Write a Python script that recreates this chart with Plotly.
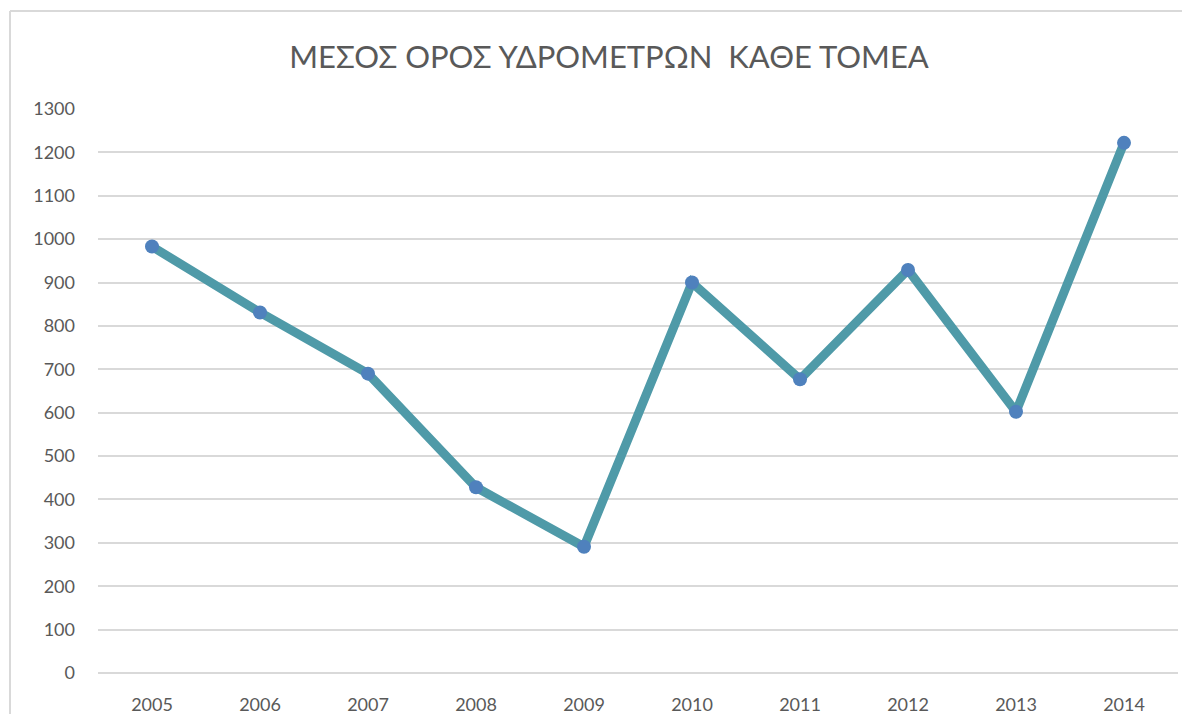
import plotly.graph_objects as go

years = ["2005", "2006", "2007", "2008", "2009", "2010", "2011", "2012", "2013", "2014"]
values = [983, 831, 690, 428, 291, 900, 677, 929, 602, 1222]
y_ticks = list(range(0, 1301, 100))

# page body has an 8px margin; keep the figure well inside the window (no scrollbars)
OFF = 8
W, H = 1174, 706
L, T = 98 - OFF, 109 - OFF
R = (OFF + W) - 1178
B = (OFF + H) - 673
pw, ph = W - L - R, H - T - B

def px_x(p):
    return (p - OFF - L) / pw

def px_y(p):
    return (H - B - (p - OFF)) / ph

border = dict(color="#D9D9D9", width=2)

fig = go.Figure()
fig.add_trace(go.Scatter(
    x=years, y=values, mode="lines+markers",
    line=dict(color="#4F9AA8", width=9),
    marker=dict(color="#4F81BD", size=14),
    showlegend=False,
))

fig.update_layout(
    width=W, height=H,
    margin=dict(l=L, r=R, t=T, b=B, autoexpand=False),
    paper_bgcolor="white", plot_bgcolor="white",
    font=dict(family="Lato, Open Sans, sans-serif", color="#595959"),
    title=dict(text="ΜΕΣΟΣ ΟΡΟΣ ΥΔΡΟΜΕΤΡΩΝ  ΚΑΘΕ ΤΟΜΕΑ", x=(609 - OFF) / W, xanchor="center",
               y=1 - (57 - OFF) / H, yanchor="middle",
               font=dict(size=31, color="#595959", family="Lato, Open Sans, sans-serif")),
    xaxis=dict(type="category", range=[-0.5, 9.5], showgrid=False, showline=False,
               automargin=False, ticks="", tickfont=dict(size=18, color="#595959"),
               ticklabelstandoff=19),
    yaxis=dict(range=[0, 1300], tickvals=y_ticks, showgrid=True, gridcolor="#D9D9D9",
               gridwidth=1.5, zeroline=True, zerolinecolor="#D9D9D9", zerolinewidth=1.5,
               showline=False, automargin=False, ticks="", tickfont=dict(size=18, color="#595959"),
               ticklabelstandoff=22),
    shapes=[
        dict(type="line", xref="paper", yref="paper",
             x0=px_x(10), x1=px_x(10), y0=px_y(760), y1=px_y(11), line=border, layer="below"),
        dict(type="line", xref="paper", yref="paper",
             x0=px_x(10), x1=px_x(1230), y0=px_y(11), y1=px_y(11), line=border, layer="below"),
    ],
)

fig.write_html("out.html")
